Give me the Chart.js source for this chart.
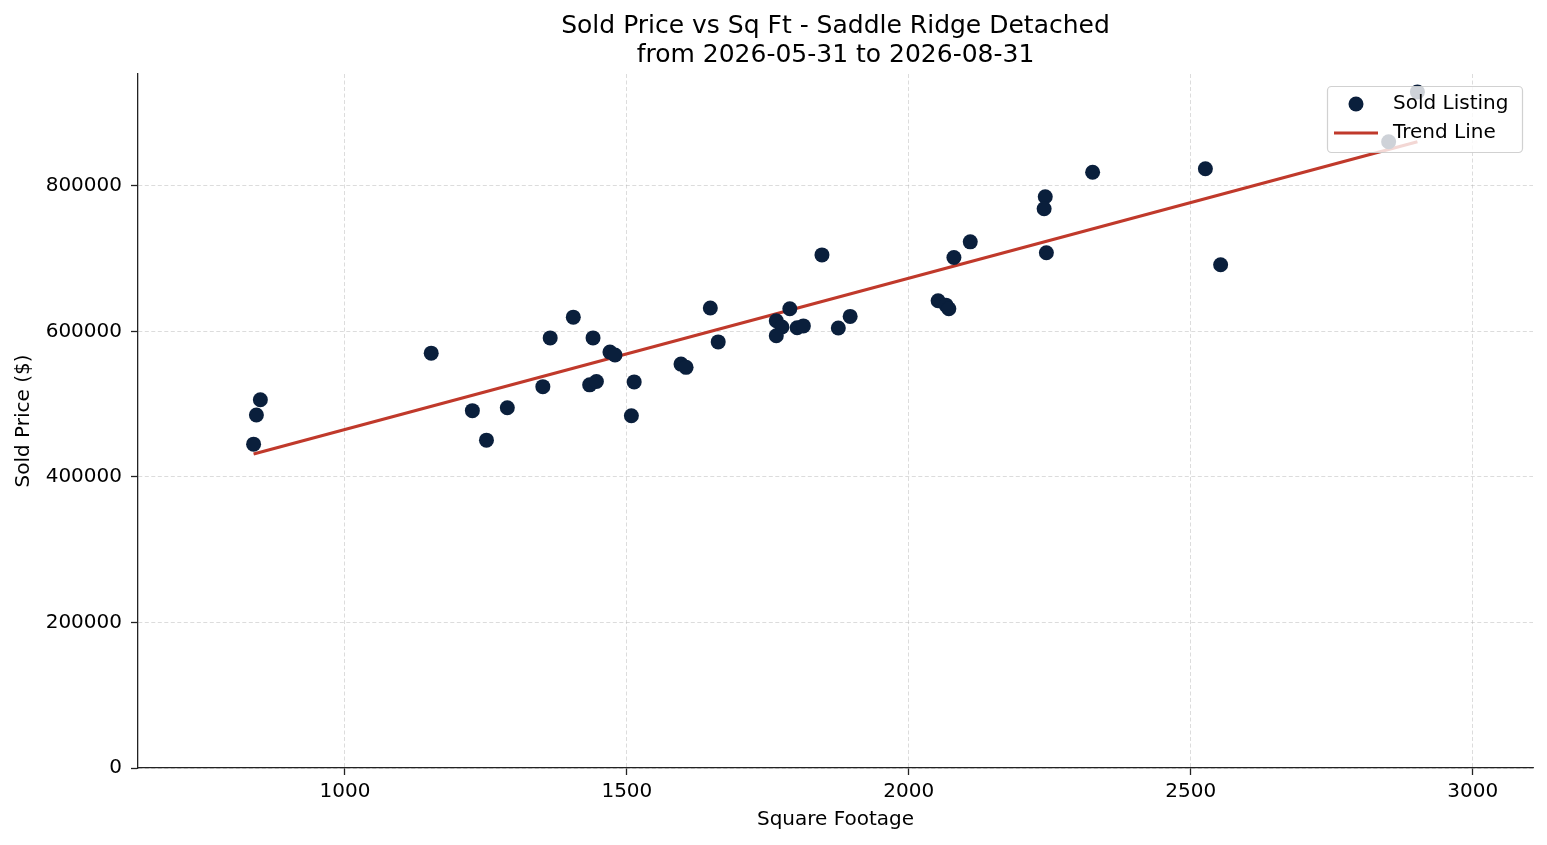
<!DOCTYPE html>
<html>
<head>
<meta charset="utf-8">
<script src="https://cdn.jsdelivr.net/npm/chart.js@4.4.0/dist/chart.umd.min.js"></script>
<style>
  html, body { margin: 0; padding: 0; background: #fff; }
  #wrap { width: 1547px; height: 845px; }
</style>
</head>
<body>
<div id="wrap"><canvas id="chart"></canvas></div>
<script>
// sold listings
const sqft = [838, 843, 850, 1153, 1226, 1251, 1288, 1351, 1364, 1405, 1440, 1434, 1446, 1470, 1479,
  1508, 1513, 1596, 1605, 1648, 1662, 1765, 1775, 1765, 1789, 1802, 1813, 1846, 1875, 1896,
  2052, 2066, 2071, 2080, 2109, 2242, 2240, 2326, 2244, 2526, 2553, 2851, 2902];
const soldPrice = [445000, 485000, 506000, 570000, 491000, 450500, 495000, 524000, 591000, 619500, 591000, 526500, 531000, 571500, 567500,
  484000, 530500, 555000, 550500, 632000, 585500, 614500, 606000, 594000, 631000, 605000, 607500, 705000, 604500, 620500,
  642000, 636000, 631000, 701500, 723000, 785000, 768500, 818500, 708000, 823500, 691500, 860500, 929000];

// trend line end points
const trendSqft = [838, 2902];
const trendPrice = [431500, 860500];

const xTicks = [1000, 1500, 2000, 2500, 3000];
const yTicks = [0, 200000, 400000, 600000, 800000];

const navy = '#0a1f3c';
const red = '#c0392b';

Chart.defaults.font.family = "'DejaVu Sans', sans-serif";
Chart.defaults.color = '#000';

// legend drawn after the datasets, like a semi transparent box on top
const boxLegend = {
    id: 'boxLegend',
    afterDraw(chart) {
        const ctx = chart.ctx;
        const area = chart.chartArea;
        const ds = chart.data.datasets;
        const w = 195, h = 66;
        const x = area.right - 11 - w;
        const y = area.top + 12;
        ctx.save();
        ctx.beginPath();
        ctx.roundRect(x + 0.5, y + 0.5, w, h, 4);
        ctx.fillStyle = 'rgba(255,255,255,0.8)';
        ctx.fill();
        ctx.strokeStyle = 'rgba(204,204,204,0.9)';
        ctx.lineWidth = 1.2;
        ctx.stroke();

        ctx.fillStyle = ds[0].backgroundColor;
        ctx.beginPath();
        ctx.arc(x + 29, y + 18, 7.5, 0, Math.PI * 2);
        ctx.fill();

        ctx.strokeStyle = ds[1].borderColor;
        ctx.lineWidth = 3.2;
        ctx.beginPath();
        ctx.moveTo(x + 7, y + 47);
        ctx.lineTo(x + 51, y + 47);
        ctx.stroke();

        ctx.fillStyle = '#000';
        ctx.font = "20px 'DejaVu Sans'";
        ctx.textBaseline = 'middle';
        ctx.fillText(ds[0].label, x + 66, y + 18);
        ctx.fillText(ds[1].label, x + 66, y + 47);
        ctx.restore();
    }
};

const gridStyle = {
    color: 'rgba(175,175,175,0.55)',
    lineWidth: 0.8,
    tickLength: 7,
    tickColor: '#222',
    tickWidth: 1.3,
    tickBorderDash: []
};

new Chart('chart', {
    type: 'scatter',
    data: {
        datasets: [
            {
                label: 'Sold Listing',
                data: sqft.map((x, i) => ({ x: x, y: soldPrice[i] })),
                backgroundColor: navy,
                borderColor: navy,
                borderWidth: 0,
                pointRadius: 7.5,
                pointHoverRadius: 7.5
            },
            {
                label: 'Trend Line',
                data: trendSqft.map((x, i) => ({ x: x, y: trendPrice[i] })),
                showLine: true,
                borderColor: red,
                backgroundColor: red,
                borderWidth: 3.2,
                pointRadius: 0,
                fill: false
            }
        ]
    },
    options: {
        responsive: true,
        maintainAspectRatio: false,
        animation: false,
        layout: { padding: { left: 0, right: 14, top: 0, bottom: 0 } },
        plugins: {
            legend: { display: false },
            tooltip: { enabled: false },
            title: {
                display: true,
                fullSize: false,
                text: ['Sold Price vs Sq Ft - Saddle Ridge Detached', 'from 2026-05-31 to 2026-08-31'],
                color: '#000',
                font: { size: 25, weight: 'normal', lineHeight: 1.16 },
                padding: { top: 11.5, bottom: 4.5 }
            }
        },
        scales: {
            x: {
                type: 'linear',
                position: 'bottom',
                min: 633,
                max: 3107,
                afterBuildTicks: s => { s.ticks = xTicks.map(v => ({ value: v })); },
                afterFit: s => { s.height = 77; },
                grid: gridStyle,
                border: { color: '#222', width: 1.3, dash: [4, 2.5] },
                ticks: { padding: 5, font: { size: 20 }, color: '#000', callback: v => String(v) },
                title: { display: true, text: 'Square Footage', font: { size: 20 }, color: '#000', padding: { top: 0, bottom: 13 } }
            },
            y: {
                type: 'linear',
                min: 0,
                max: 953600,
                afterBuildTicks: s => { s.ticks = yTicks.map(v => ({ value: v })); },
                afterFit: s => { s.width = 138; },
                grid: gridStyle,
                border: { color: '#222', width: 1.3, dash: [4, 2.5] },
                ticks: { padding: 9, font: { size: 20 }, color: '#000', callback: v => String(v) },
                title: { display: true, text: 'Sold Price ($)', font: { size: 20 }, color: '#000', padding: { top: 12, bottom: 0 } }
            }
        }
    },
    plugins: [boxLegend]
});
</script>
</body>
</html>
